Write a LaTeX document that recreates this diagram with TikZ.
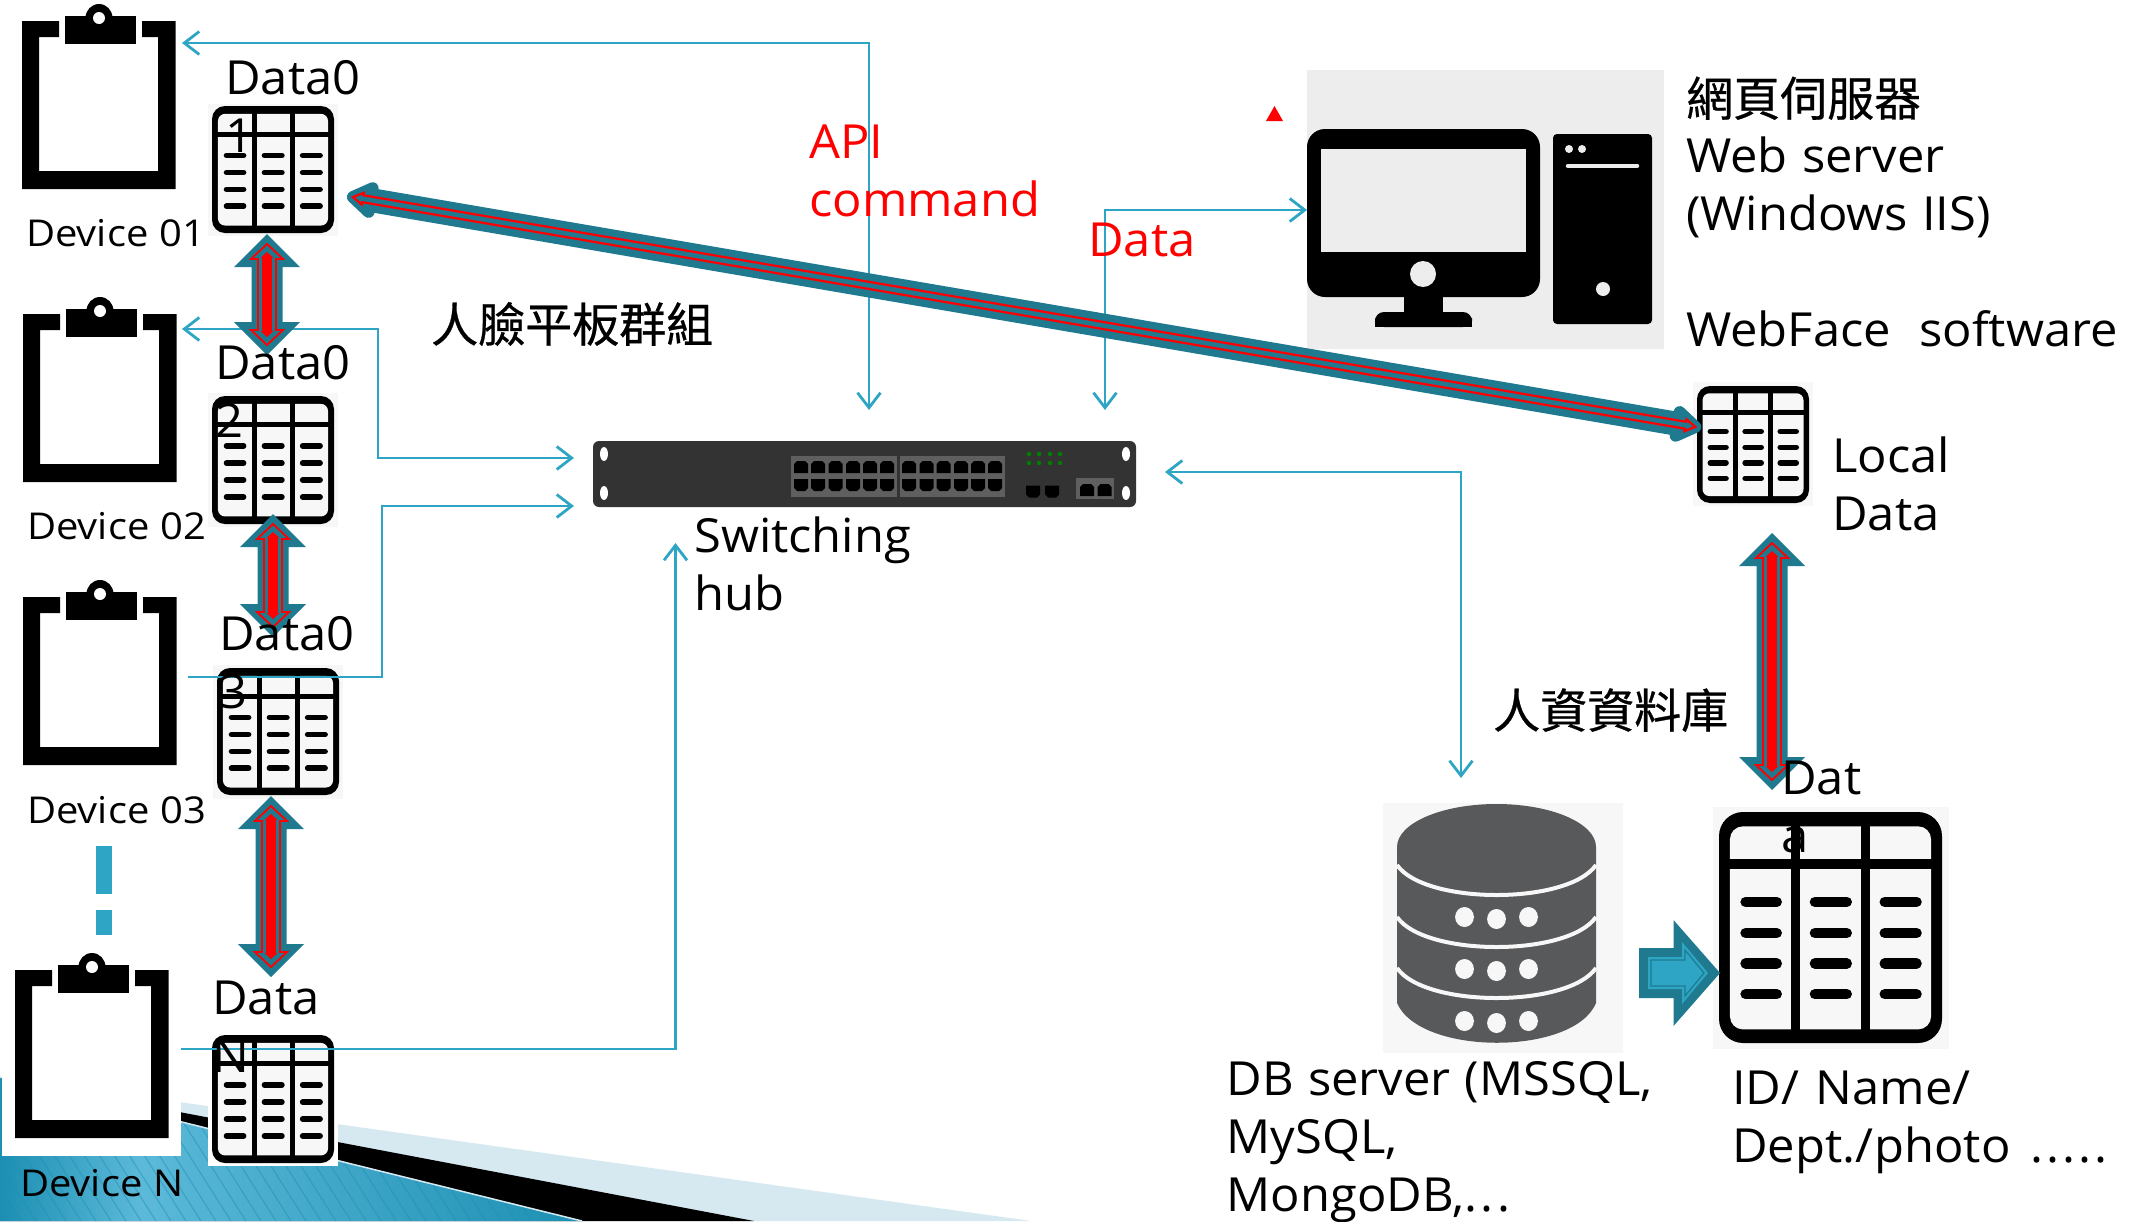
\documentclass[tikz,border=0pt]{standalone}
\usepackage{fontspec}
\setmainfont[FakeStretch=1.04,WordSpace=1.12]{Open Sans}
\newfontfamily\devf[FakeStretch=1.08,WordSpace=1.1]{Open Sans}
\newfontfamily\cjk[FakeBold=0.6]{Noto Sans CJK TC}
\usetikzlibrary{arrows.meta}
\definecolor{cyanl}{HTML}{2EA5C4}
\definecolor{tealx}{HTML}{1F7A90}
\definecolor{cellg}{HTML}{F7F7F7}
\definecolor{hubg}{HTML}{333333}
\definecolor{portg}{HTML}{5F5F5F}
\definecolor{dbg}{HTML}{58595B}
\definecolor{pale}{HTML}{D6E9F1}
\definecolor{bluea}{HTML}{1C8FB2}
\definecolor{blueb}{HTML}{5CB9D9}
\tikzset{
  barb/.tip={Straight Barb[length=15pt,width=23pt]},
  conn/.style={draw=cyanl,line width=2.8pt},
  lbl/.style={inner sep=0pt,anchor=base west,align=left,font=\fontsize{47}{58}\selectfont},
  smalllbl/.style={inner sep=0pt,anchor=base west,font=\devf\fontsize{37}{44}\selectfont},
  redlbl/.style={lbl,text=red},
}
% clipboard device: #1,#2 top-left of frame
\newcommand\deviceicon[2]{%
  \begin{scope}[shift={(#1,#2)}]
    \fill[black] (0,0) -- (37,0) -- (37,16) -- (17,16) -- (17,150) -- (136,150) -- (136,16) -- (120,16) -- (120,0) -- (153.5,0) -- (153.5,168) -- (0,168) -- cycle;
    \fill[black] (43,-5) rectangle (114,23);
    \fill[black] (77,-3) ellipse [x radius=13.5,y radius=14];
    \fill[white] (77,-3) circle [radius=6];
  \end{scope}}
% table icon: #1,#2 top-left, #3 width, #4 height, #5 stroke scale
\newcommand\tableicon[5]{%
  \begin{scope}[shift={(#1,#2)},x=#3pt,y=-#4pt]
    \fill[black,rounded corners=#5*13pt] (0,0) rectangle (1,1);
    \fill[cellg,rounded corners=#5*7pt] (.049,.062) rectangle (.951,.941);
    \fill[black] (.324,0) rectangle (.365,1);
    \fill[black] (.638,0) rectangle (.678,1);
    \fill[black] (0,.203) rectangle (1,.245);
    \foreach \yy in {.389,.524,.656,.789}{
      \draw[black,line width=#5*5.6pt,line cap=round] (.119,\yy) -- (.259,\yy);
      \draw[black,line width=#5*5.6pt,line cap=round] (.430,\yy) -- (.573,\yy);
      \draw[black,line width=#5*5.6pt,line cap=round] (.743,\yy) -- (.886,\yy);
    }
  \end{scope}}
% vertical double arrow: #1 x, #2 top, #3 bottom
\newcommand\dblshape[7]{% x top bot shaft head headlen tipinset
  (#1,#2+#7) -- ({#1+#5},{#2+#7+#6}) -- ({#1+#4},{#2+#7+#6}) -- ({#1+#4},{#3-#7-#6}) -- ({#1+#5},{#3-#7-#6}) -- (#1,#3-#7) -- ({#1-#5},{#3-#7-#6}) -- ({#1-#4},{#3-#7-#6}) -- ({#1-#4},{#2+#7+#6}) -- ({#1-#5},{#2+#7+#6}) -- cycle}
\newcommand\dblarrow[3]{%
  \fill[tealx] \dblshape{#1}{#2}{#3}{15.5}{33}{33}{0};
  \draw[red,line width=1.8pt,miter limit=4] \dblshape{#1}{#2}{#3}{9}{16}{15}{10};
  \fill[red] \dblshape{#1}{#2}{#3}{4.8}{6.5}{6}{18};
}
\newcommand\swport[3]{\fill[black] ({#1-7},{#2+#3*6}) -- ({#1-7},{#2-#3*3}) -- ({#1-4},{#2-#3*6}) -- ({#1+4},{#2-#3*6}) -- ({#1+7},{#2-#3*3}) -- ({#1+7},{#2+#3*6}) -- cycle;}
\begin{document}
\begin{tikzpicture}[x=1pt,y=-1pt]
\useasboundingbox (0,0) rectangle (2138,1221);
\fill[white] (0,0) rectangle (2138,1221);
% bottom-left theme wedge
\fill[pale] (0,1077) -- (1031,1221) -- (0,1221) -- cycle;
\fill[black] (0,1078) -- (754,1221) -- (0,1221) -- cycle;
\begin{scope}
  \clip (0,1077) -- (582,1221) -- (0,1221) -- cycle;
  \shade[left color=bluea,right color=blueb] (0,1070) rectangle (140,1221);
  \shade[left color=blueb,right color=bluea] (140,1070) rectangle (590,1221);
  \foreach \i in {-8,...,40}{
    \draw[bluea,opacity=.45,line width=1.2pt] ({\i*15},1070) -- ({\i*15+96},1221);
  }
\end{scope}
\draw[pale,line width=1.5pt] (0,1077) -- (582,1221);
\fill[white] (2,960) rectangle (181,1156);
% named connection points
\coordinate (dev1port) at (182,43);
\coordinate (dev2port) at (182,329);
\coordinate (dev3port) at (188,677);
\coordinate (devNport) at (181,1049);
\coordinate (hubTopA) at (869,410);
\coordinate (hubTopB) at (1105,410);
\coordinate (hubLeftA) at (574,458);
\coordinate (hubLeftB) at (574,506);
\coordinate (hubLow) at (675.5,543);
\coordinate (hubRight) at (1165,472);
\coordinate (webPort) at (1307,210);
\coordinate (dbPort) at (1461,778);
\coordinate (bendApi) at (869,43);
\coordinate (bend2a) at (378,329);
\coordinate (bend2b) at (378,458);
\coordinate (bend3a) at (382,677);
\coordinate (bend3b) at (382,506);
\coordinate (bendN) at (675.5,1049);
\coordinate (bendData) at (1105,210);
\coordinate (bendDb) at (1461,472);
\coordinate (diagA) at (347,196);
% devices
\deviceicon{22}{21}
\deviceicon{23}{314}
\deviceicon{23}{597}
\deviceicon{15}{970}
% dash between devices
\fill[cyanl] (96,846) rectangle (112,894);
\fill[cyanl] (96,910) rectangle (112,935);
% tables
\fill[white] (208,1032) rectangle (338,1166);
\fill[cellg] (208,104) rectangle (338,236);
\fill[cellg] (208,393) rectangle (338,527);
\fill[cellg] (213,665) rectangle (343,799);
\fill[cellg] (1693,382) rectangle (1813,506);
\fill[cellg] (1713,807) rectangle (1949,1049);
\tableicon{212}{106}{122}{127}{1}
\tableicon{212}{396}{122}{128}{1}
\tableicon{217}{668}{122}{127}{1}
\tableicon{212}{1035}{122}{128}{1}
\tableicon{1697}{386}{112}{117}{1}
\tableicon{1719}{812}{223}{231}{1.85}
% switching hub
\node[fill=hubg,rounded corners=6pt,minimum width=543pt,minimum height=66pt,inner sep=0pt] (hub) at (864.5,474) {};
\foreach \xx in {604,1126}{\foreach \yy in {454,493}{\fill[white] (\xx,\yy) ellipse [x radius=4,y radius=7];}}
\fill[portg] (791,456) rectangle (896.5,497);
\fill[portg] (900,456) rectangle (1005,497);
\foreach \xx in {801,818,835.5,853,870,887,909,926.5,943.5,961,978,995}{
  \swport{\xx}{467}{1}
  \swport{\xx}{485}{-1}
}
\foreach \xx in {1029,1039,1050,1060}{\foreach \yy in {454,463}{\fill[green!50!black] (\xx,\yy) circle [radius=2.2];}}
\swport{1033}{491.5}{-1}
\swport{1052}{491.5}{-1}
\fill[portg] (1076,478) rectangle (1113.5,499);
\swport{1087}{490}{1}
\swport{1104.5}{490}{1}
% web server
\fill[black!7] (1307,70) rectangle (1664,349);
\fill[black,rounded corners=18pt] (1307,129) rectangle (1540,297);
\fill[black!7] (1321,149) rectangle (1526,252);
\fill[black!7] (1423,274) circle [radius=13];
\fill[black] (1404,290) rectangle (1443,315);
\fill[black,rounded corners=9pt] (1375,327) -- (1375,312) -- (1472,312) -- (1472,327) -- cycle;
\fill[black] (1375,320) rectangle (1472,327);
\fill[black,rounded corners=4pt] (1553,134) rectangle (1652,324);
\fill[black!7] (1569,149) circle [radius=4];
\fill[black!7] (1582,149) circle [radius=4];
\draw[black!7,line width=4.5pt,line cap=round] (1568,166) -- (1637,166);
\fill[black!7] (1603,289) circle [radius=7];
\fill[red] (1266,121) -- (1274.5,106) -- (1283,121) -- cycle;
% database
\fill[black!3] (1383,803) rectangle (1623,1053);
\fill[dbg] (1397,847) -- (1397,1003) .. controls (1420,1056) and (1574,1056) .. (1596,1003) -- (1596,847) -- cycle;
\fill[dbg] (1496.5,847) ellipse [x radius=99.5,y radius=43];
\foreach \yy in {865,917,968}{
  \draw[black!3,line width=4pt] (1397,\yy) .. controls (1425,{\yy+40}) and (1568,{\yy+40}) .. (1596,\yy);
}
\foreach \yy in {917,969,1021}{
  \fill[black!3] (1464.5,\yy) ellipse [x radius=9.4,y radius=10];
  \fill[black!3] (1496.5,\yy+2) ellipse [x radius=9.4,y radius=10];
  \fill[black!3] (1528.5,\yy) ellipse [x radius=9.4,y radius=10];
}
% connectors
\draw[conn,barb-barb] (dev1port) -- (bendApi) -- (hubTopA);
\draw[conn,barb-barb] (dev2port) -- (bend2a) -- (bend2b) -- (hubLeftA);
\draw[conn,-barb] (dev3port) -- (bend3a) -- (bend3b) -- (hubLeftB);
\draw[conn,-barb] (devNport) -- (bendN) -- (hubLow);
\draw[conn,barb-barb] (hubTopB) -- (bendData) -- (webPort);
\draw[conn,barb-barb] (hubRight) -- (bendDb) -- (dbPort);
% thick double arrows
\dblarrow{267}{234}{355}
\dblarrow{273}{514}{637}
\dblarrow{271}{796}{977}
\dblarrow{1772}{533}{790}
% long diagonal double arrow
\begin{scope}[shift={(diagA)},rotate=-9.72]
  \fill[tealx,draw=tealx,line width=12pt,line join=round] (6,0) -- (24,-12) -- (24,-6) -- (1350,-6) -- (1350,-12) -- (1368,0) -- (1350,12) -- (1350,6) -- (24,6) -- (24,12) -- cycle;
  \draw[red,line width=2.2pt] (6,0) -- (16,-6) -- (16,-3.5) -- (1358,-3.5) -- (1358,-6) -- (1368,0) -- (1358,6) -- (1358,3.5) -- (16,3.5) -- (16,6) -- cycle;
\end{scope}
% block arrow db -> table
\fill[tealx] (1639,948) -- (1673.5,948) -- (1673.5,920) -- (1720,973) -- (1673.5,1026) -- (1673.5,998) -- (1639,998) -- cycle;
\fill[cyanl] (1648,957) -- (1682,957) -- (1682,942) -- (1708,973) -- (1682,1004) -- (1682,989) -- (1648,989) -- cycle;
\draw[tealx,line width=1.2pt] (1651,960) -- (1685,960) -- (1685,950) -- (1704,973) -- (1685,996) -- (1685,986) -- (1651,986) -- cycle;
% labels
\node[lbl] (d1) at (225,152) {Data0\\1};
\node[lbl] (d2) at (215,437.5) {Data0\\2};
\node[lbl] (d3) at (219,708) {Data0\\3};
\node[lbl] (dN) at (212,1072) {Data\\N};
\node[smalllbl] (n1) at (26,246) {Device 01};
\node[smalllbl] (n2) at (27,539) {Device 02};
\node[smalllbl] (n3) at (27,823) {Device 03};
\node[smalllbl] (nN) at (20,1196) {Device N};
\node[lbl] (grp) at (431,342) {\cjk 人臉平板群組};
\node[redlbl] (api) at (809,216) {API\\command};
\node[redlbl] (dat) at (1088,256) {Data};
\node[lbl] (web) at (1686,346) {\raisebox{-2pt}{\cjk 網頁伺服器}\\Web server\\(Windows IIS)\\[0pt]\mbox{}\\WebFace\ \ software};
\node[lbl] (loc) at (1832,530) {Local\\Data};
\node[lbl] (hrdb) at (1493,728) {\cjk 人資資料庫};
\node[lbl] (dta) at (1781,852) {Dat\\a};
\node[lbl] (dbs) at (1226.5,1211) {DB server (MSSQL,\\MySQL,\\MongoDB,.\kern4pt.\kern4pt.};
\node[lbl] (idn) at (1732,1162) {ID/\kern2pt{} Name/\\Dept./\kern1pt photo\kern6pt{} .\kern3pt.\kern3pt.\kern3pt.\kern3pt.};
\node[lbl] (sw) at (694,610) {Switching\\hub};
\end{tikzpicture}
\end{document}
